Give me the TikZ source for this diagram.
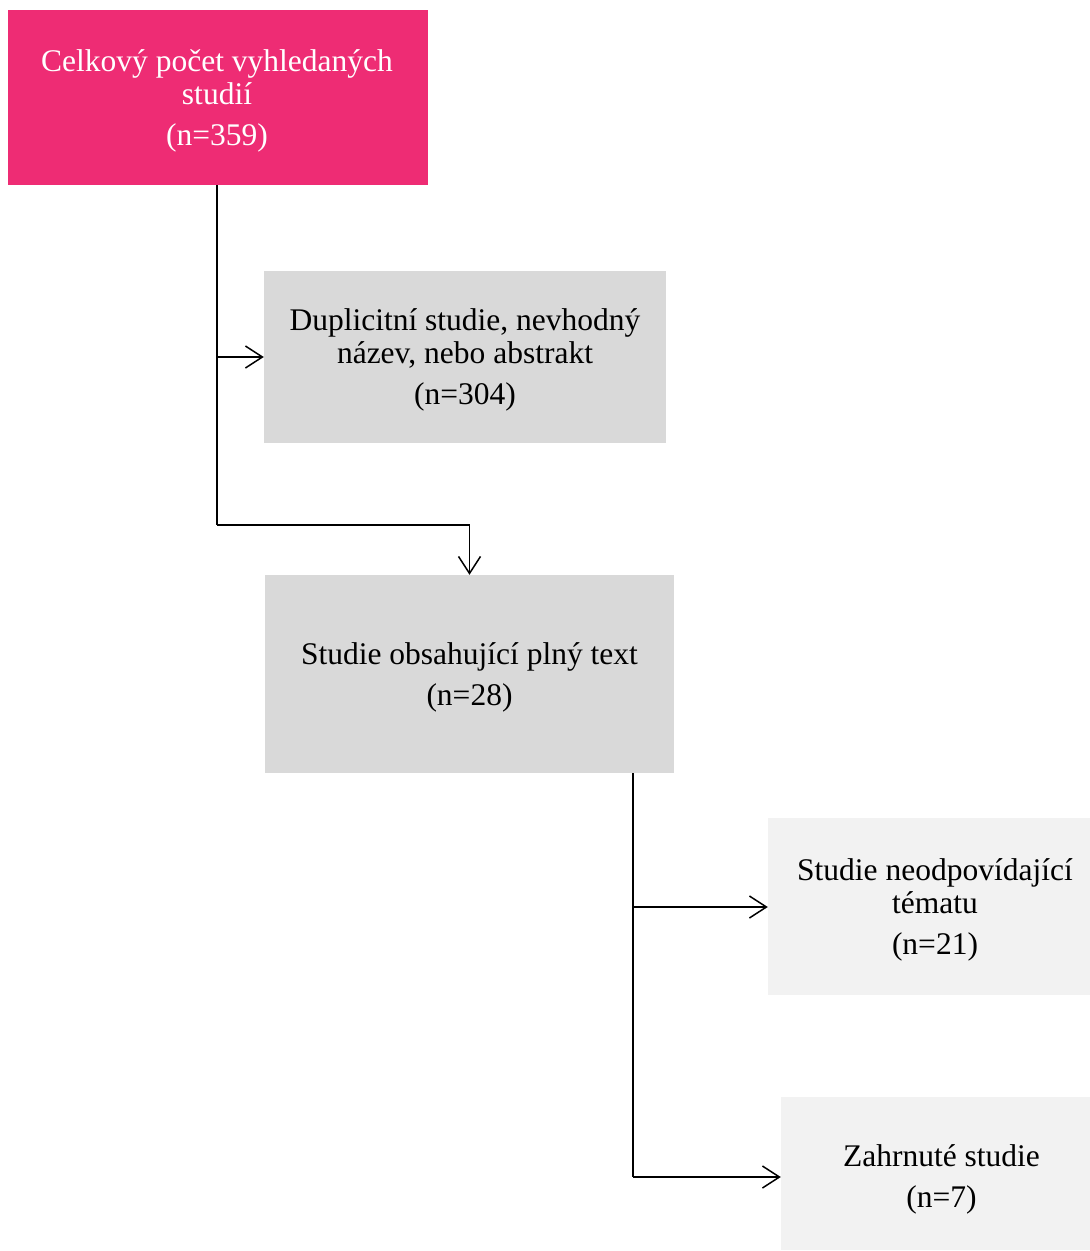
\documentclass[tikz,border=0pt]{standalone}
\usepackage{fontspec}
\setmainfont{Liberation Serif}
\usetikzlibrary{arrows.meta}
\definecolor{pinkbox}{HTML}{EE2C74}
\definecolor{graybox}{HTML}{D9D9D9}
\definecolor{lightbox}{HTML}{F2F2F2}
\begin{document}
\begin{tikzpicture}[x=1pt,y=-1pt,
  box/.style={rectangle, inner sep=0pt},
  txt/.style={inner sep=0pt, align=center, font=\fontsize{31.5}{33}\selectfont},
  conn/.style={line width=1.5pt, draw=black, -{Straight Barb[length=17pt,width=22pt,line width=1.5pt]}},
  plain/.style={line width=1.5pt, draw=black}]
\useasboundingbox (0,0) rectangle (1090,1251);
\node[box, fill=pinkbox, minimum width=420pt, minimum height=175pt] (total) at (218,97.5) {};
\node[txt, text=white] (totalt) at ([shift={(-1,3)}]total.center)
  {Celkový počet vyhledaných\\studií\\[8pt](n=359)};
\node[box, fill=graybox, minimum width=402pt, minimum height=172pt] (dup) at (465,357) {};
\node[txt] (dupt) at ([shift={(0,3)}]dup.center)
  {Duplicitní studie, nevhodný\\název, nebo abstrakt\\[8pt](n=304)};
\node[box, fill=graybox, minimum width=409pt, minimum height=198pt] (full) at (469.5,674) {};
\node[txt] (fullt) at ([shift={(0,3)}]full.center)
  {Studie obsahující plný text\\[8pt](n=28)};
\node[box, fill=lightbox, minimum width=322pt, minimum height=177pt] (off) at (929,906.5) {};
\node[txt] (offt) at ([shift={(6,3)}]off.center)
  {Studie neodpovídající\\tématu\\[8pt](n=21)};
\node[box, fill=lightbox, minimum width=309pt, minimum height=153pt] (incl) at (935.5,1173.5) {};
\node[txt] (inclt) at ([shift={(6,6)}]incl.center)
  {Zahrnuté studie\\[8pt](n=7)};
\coordinate (j1) at (217,525);
\coordinate (b1) at (217,357);
\coordinate (j2) at (633,1177);
\coordinate (b2) at (633,907);
\draw[plain] (total.south -| j1) -- (j1);
\draw[conn] (j1) -| (full.north);
\draw[conn] (b1) -- (dup.west |- b1);
\draw[plain] (full.south -| j2) -- (j2);
\draw[conn] (j2) -- (incl.west |- j2);
\draw[conn] (b2) -- (off.west |- b2);
\end{tikzpicture}
\end{document}
